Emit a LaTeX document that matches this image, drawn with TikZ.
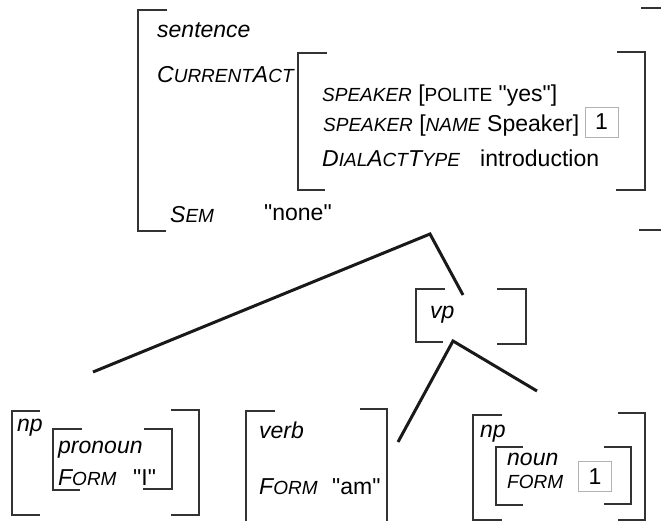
\documentclass[tikz,border=0pt]{standalone}
\usepackage{fontspec}
\setmainfont{Liberation Sans}[Ligatures=TeXOff]
\usepackage{tikz}
\usetikzlibrary{calc}
\newcommand{\smc}[1]{{\fontsize{19}{21}\selectfont #1}}
\tikzset{
  brk/.style = {draw=black!80, line width=1.4pt},
  branch/.style = {draw=black!90, line width=3pt},
  txt/.style = {anchor=base west, inner sep=0pt, font=\fontsize{23}{26}\selectfont},
  tagbox/.style = {draw=black!30, line width=0.8pt, inner sep=0pt, minimum width=33pt, minimum height=30pt, font=\fontsize{23}{26}\selectfont}
}

\begin{document}
\begin{tikzpicture}[x=1pt,y=-1pt]
\useasboundingbox (0,0) rectangle (661,521);
\clip (0,0) rectangle (661,521);

% sentence AVM
\draw[brk] (167,10) -| (138,231) -- (166,231);
\draw[brk] (641,8) -| (680,230) -- (639,230);
\node[txt] (sentence) at (157,38) {\textit{sentence}};
\node[txt] (curact) at (157,83) {\textit{C\smc{URRENT}A\smc{CT}}};
\node[txt] (sem) at (170,223) {\textit{S\smc{EM}}};
\node[txt] (semval) at (264,221) {"none"};

% value of CurrentAct
\draw[brk] (327,53) -| (298,190) -- (325,190);
\draw[brk] (617,52) -| (645,190) -- (616,190);
\node[txt] (polite) at (322,102) {\textit{\smc{SPEAKER}} [\smc{POLITE} "yes"]};
\node[txt] (name) at (323,132) {\textit{\smc{SPEAKER}} [\textit{\smc{NAME}} Speaker]};
\node[tagbox] (tagA) at (601.5,122) {1};
\node[txt] (dat) at (322,167) {\textit{D\smc{IAL}A\smc{CT}T\smc{YPE}}};
\node[txt] (datval) at (480,167) {introduction};

% vp
\draw[brk] (445,289) -| (416,342) -- (443,342);
\draw[brk] (497,289) -| (526,344) -- (497,344);
\node[txt] (vp) at (430,318) {\textit{vp}};

% np (pronoun)
\draw[brk] (40,411) -| (12,515) -- (40,515);
\draw[brk] (171,410) -| (199,515) -- (171,515);
\node[txt] (npA) at (17,431) {\textit{np}};
\draw[brk] (82,429) -| (53,490) -- (80,490);
\draw[brk] (144,429) -| (172,489) -- (143,489);
\node[txt] (pron) at (58,453) {\textit{pronoun}};
\node[txt] (formA) at (58,485) {\textit{F\smc{ORM}}};
\node[txt] (formAval) at (133,485) {"I"};

% verb
\draw[brk] (275,411) -| (246,540);
\draw[brk] (360,409) -| (387,540);
\node[txt] (verb) at (259,438) {\textit{verb}};
\node[txt] (formB) at (259,494) {\textit{F\smc{ORM}}};
\node[txt] (formBval) at (332,494) {"am"};

% np (noun)
\draw[brk] (502,415) -| (473,520) -- (502,520);
\draw[brk] (618,413) -| (645,520) -- (618,520);
\node[txt] (npB) at (480,437) {\textit{np}};
\draw[brk] (523,447) -| (496,505) -- (523,505);
\draw[brk] (604,447) -| (631,504) -- (604,504);
\node[txt] (noun) at (507,465) {\textit{noun}};
\node[txt] (formC) at (507,488) {\textit{\smc{FORM}}};
\node[tagbox] (tagB) at (595,476.5) {1};

% tree branches
\coordinate (npAtop) at (93,372);
\coordinate (sApex) at (430,234);
\coordinate (vpTop) at (463,295);
\coordinate (vpApex) at (453,341);
\coordinate (verbTop) at (398,442);
\coordinate (npBtop) at (537,391);
\draw[branch] (npAtop) -- (sApex) -- (vpTop);
\draw[branch] (verbTop) -- (vpApex) -- (npBtop);
\end{tikzpicture}
\end{document}
